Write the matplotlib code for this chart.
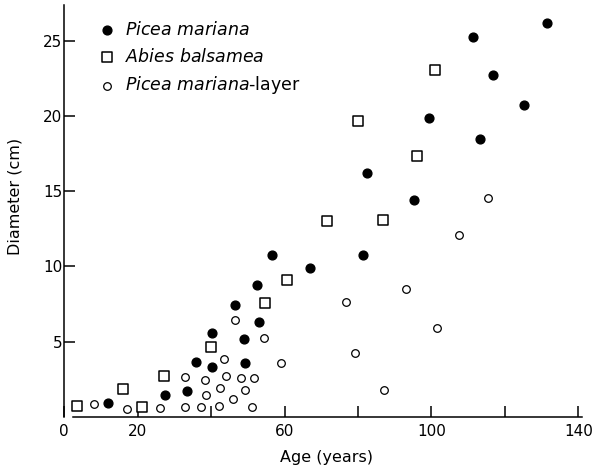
import numpy as np
import matplotlib
matplotlib.use("Agg")
import matplotlib.pyplot as plt

plt.rcParams['font.family'] = ['DejaVu Sans']
plt.rcParams['mathtext.fontset'] = 'dejavusans'

# Picea mariana (filled circles)
pm_age = [11.8, 27.4, 33.3, 35.9, 40.3, 40.3, 46.5, 48.9, 49.1, 52.6, 53.0, 56.5,
          66.8, 81.3, 82.5, 95.3, 99.2, 111.4, 113.1, 116.7, 125.2, 131.4]
pm_diam = [0.89, 1.47, 1.71, 3.62, 3.31, 5.56, 7.42, 5.18, 3.58, 8.78, 6.29, 10.76,
           9.89, 10.76, 16.25, 14.43, 19.87, 25.29, 18.45, 22.76, 20.76, 26.2]

# Abies balsamea (open squares)
ab_age = [3.5, 16.1, 21.1, 27.1, 40.0, 54.7, 60.6, 71.5, 80.0, 86.9, 96.1, 100.9]
ab_diam = [0.73, 1.85, 0.63, 2.73, 4.63, 7.56, 9.07, 13.0, 19.69, 13.11, 17.33, 23.09]

# Picea mariana - layer (open circles)
pl_age = [8.2, 17.2, 26.1, 33.0, 33.0, 37.3, 38.2, 38.6, 42.1, 42.4, 43.4, 44.0,
          45.9, 46.5, 48.2, 49.2, 51.0, 51.7, 54.3, 58.9,
          76.7, 79.2, 87.1, 93.1, 101.5, 107.6, 115.3]
pl_diam = [0.85, 0.51, 0.6, 2.65, 0.63, 0.63, 2.43, 1.42, 0.73, 1.91, 3.87, 2.69,
           1.18, 6.42, 2.58, 1.76, 0.67, 2.6, 5.25, 3.58,
           7.65, 4.22, 1.8, 8.51, 5.93, 12.07, 14.53]

xticks = [0, 20, 40, 60, 80, 100, 120, 140]
xtick_labels = ["0", "20", "", "60", "", "100", "", "140"]
yticks = [5, 10, 15, 20, 25]

fig = plt.figure(figsize=(5.92, 4.73), dpi=100)
ax = fig.add_axes([0.1086, 0.119, 0.8746, 0.8704])

ax.scatter(pm_age, pm_diam, s=40, marker="o", facecolor="black", edgecolor="black",
           linewidths=1, label=r"$\mathit{Picea\ mariana}$", zorder=3)
ax.scatter(ab_age, ab_diam, s=44, marker="s", facecolor="white", edgecolor="black",
           linewidths=1.1, label=r"$\mathit{Abies\ balsamea}$", zorder=3)
ax.scatter(pl_age, pl_diam, s=30, marker="o", facecolor="white", edgecolor="black",
           linewidths=0.9, label=r"$\mathit{Picea\ mariana}$-layer", zorder=3)

ax.set_xlim(0, 141)
ax.set_ylim(0, 27.4)
ax.spines["top"].set_visible(False)
ax.spines["right"].set_visible(False)
ax.spines["bottom"].set_bounds(2.3, 141)
ax.spines["left"].set_linewidth(1.1)
ax.spines["bottom"].set_linewidth(1.1)

ax.set_xticks(xticks)
ax.set_xticklabels(xtick_labels)
ax.set_yticks(yticks)
ax.tick_params(axis="both", direction="in", length=8, width=1.1, labelsize=11)
ax.tick_params(axis="y", pad=1.5)
ax.tick_params(axis="x", pad=5)

ax.set_xlabel("Age (years)", fontsize=11.5)
ax.set_ylabel("Diameter (cm)", fontsize=11.5)
ax.xaxis.set_label_coords(0.506, -0.081)
ax.yaxis.set_label_coords(-0.080, 0.534)

ax.legend(loc="upper left", bbox_to_anchor=(100 / 592, 1 - 21 / 473),
          bbox_transform=fig.transFigure, frameon=False, fontsize=12.5,
          borderpad=0, handlelength=0.8, handletextpad=0.63, labelspacing=0.5,
          scatterpoints=1, borderaxespad=0)

fig.savefig("out.png", dpi=100)
